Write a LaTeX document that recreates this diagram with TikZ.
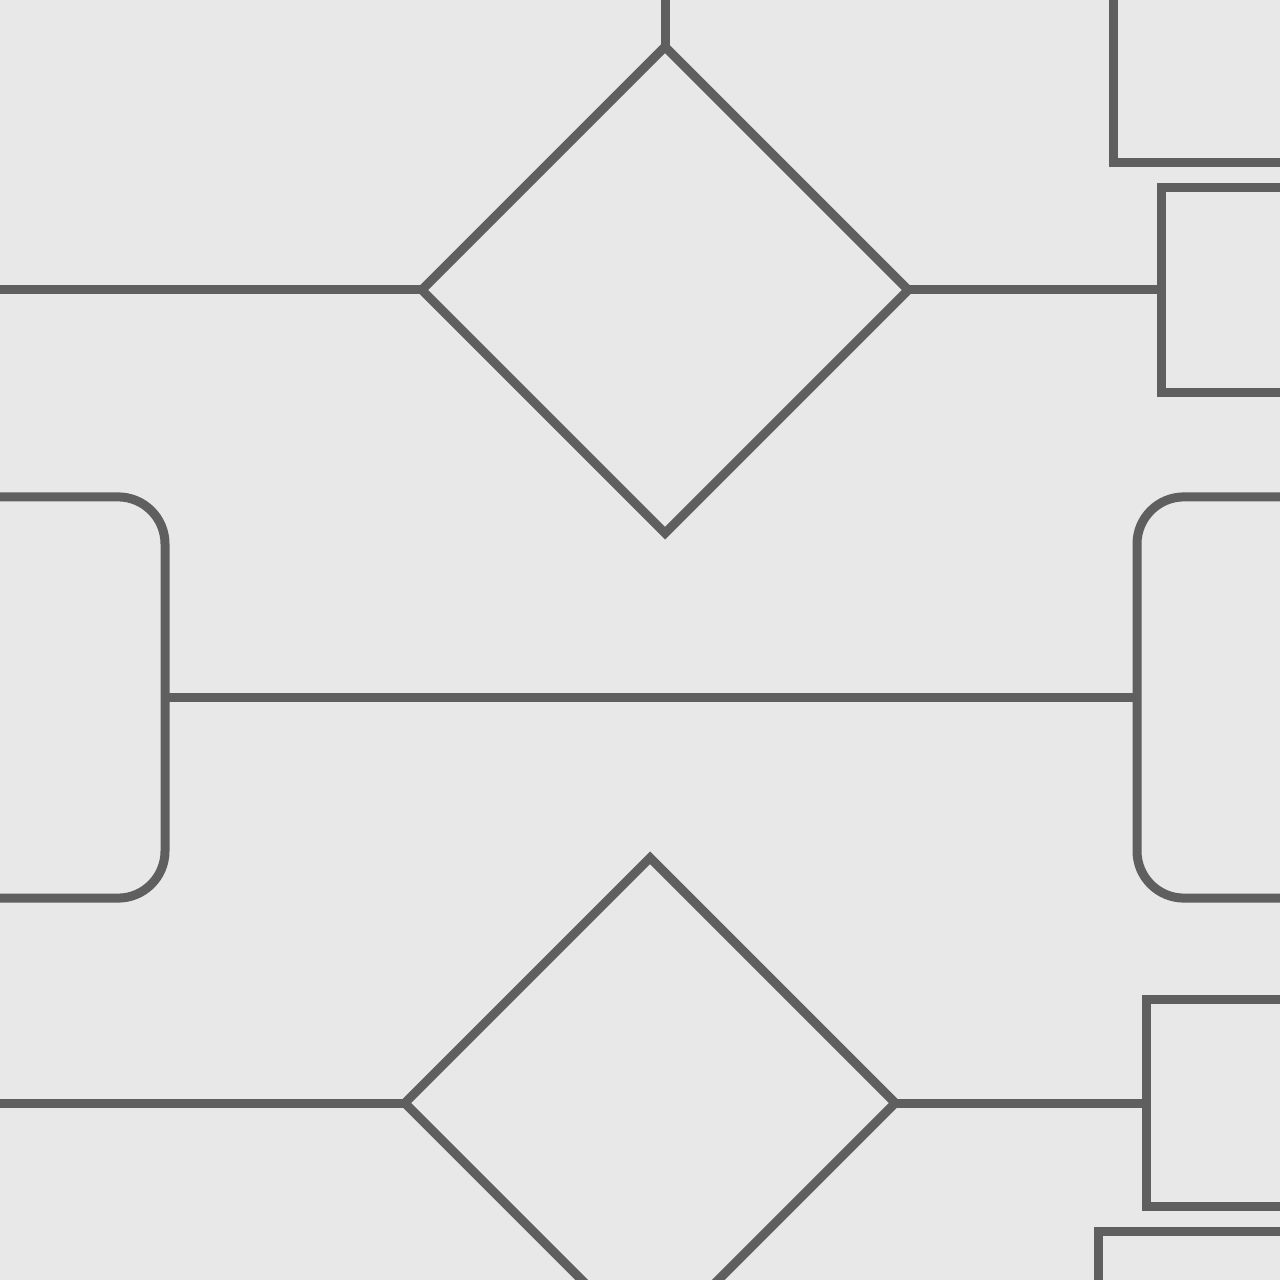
\documentclass[tikz,border=0pt]{standalone}
\usetikzlibrary{shapes.geometric}
\usetikzlibrary{positioning}
\definecolor{bgcol}{HTML}{E8E8E8}
\definecolor{linecol}{HTML}{5F5F5F}
\begin{document}
\begin{tikzpicture}[
        x=0.01cm, y=-0.01cm,
        every node/.style={draw=linecol, line width=0.09cm, inner sep=0, outer sep=0},
        decision/.style={diamond, minimum width=4.86cm, minimum height=4.86cm},
        block/.style={rectangle, minimum width=3.5cm},
        terminal/.style={rectangle, rounded corners=0.47cm, minimum width=3.5cm, minimum height=4.01cm},
        link/.style={draw=linecol, line width=0.09cm}
    ]
        % 画布与背景
        \useasboundingbox (0,0) rectangle (1280,1280);
        \clip (0,0) rectangle (1280,1280);
        \fill[bgcol] (0,0) rectangle (1280,1280);

        % 判断框
        \node[decision] (check1) at (665,290) {};
        \node[decision, minimum width=4.9cm, minimum height=4.9cm] (check2) at (650,1103) {};

        % 右侧方框(伸出画面)
        \node[block, minimum height=3.2cm, anchor=south west] (box0) at (1113,163) {};
        \node[block, minimum height=2.05cm, anchor=west] (box1) at (1161,290) {};
        \node[block, minimum height=2.06cm, anchor=west] (box2) at (1146,1103) {};
        \node[block, minimum height=2cm, anchor=north west] (box3) at (1098,1231) {};

        % 圆角框
        \node[terminal, anchor=east] (endL) at (165,697.5) {};
        \node[terminal, anchor=west] (endR) at (1137,697.5) {};

        % 画面外的端点
        \coordinate (inTop) at (665,-20);
        \coordinate (inA) at (-20,290);
        \coordinate (inB) at (-20,1103);

        % 连接线
        \draw[link] (inTop) -- (check1.north);
        \draw[link] (inA) -- (check1.west);
        \draw[link] (check1.east) -- (box1.west);
        \draw[link] (endL.east) -- (endR.west);
        \draw[link] (inB) -- (check2.west);
        \draw[link] (check2.east) -- (box2.west);
    \end{tikzpicture}
\end{document}
